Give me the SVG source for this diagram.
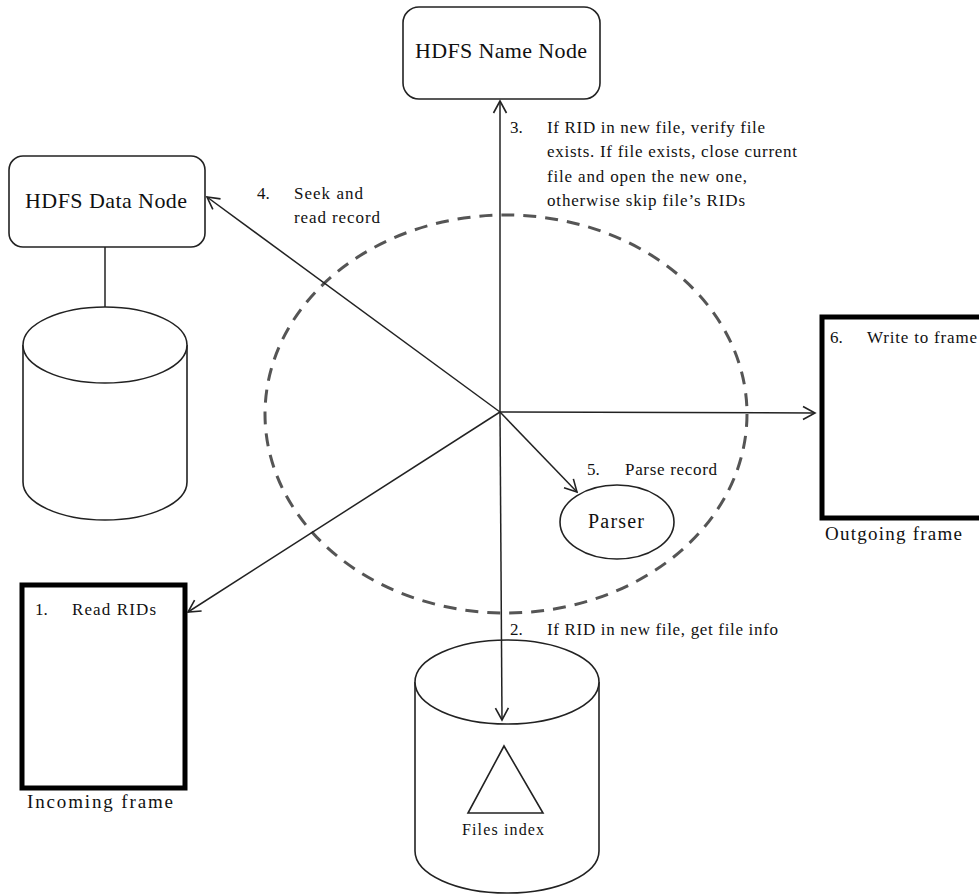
<svg xmlns="http://www.w3.org/2000/svg" width="979" height="895" viewBox="0 0 979 895">
  <style>
    .node { fill: #fff; stroke: #222; stroke-width: 1.6; }
    .frame { fill: #fff; stroke: #000; stroke-width: 5; }
    .conn { fill: none; stroke: #222; stroke-width: 1.5; }
    .scope { fill: none; stroke: #555; stroke-width: 3; stroke-dasharray: 13 9; }
    .title { font-size: 22px; }
    .step { font-size: 17px; }
  </style>
  <defs>
    <marker id="arrow" markerWidth="16" markerHeight="16" viewBox="-14 -8 16 16" refX="0" refY="0" orient="auto" markerUnits="userSpaceOnUse">
      <path d="M-12,-6.5 L0,0 L-12,6.5" fill="none" stroke="#222" stroke-width="1.6"/>
    </marker>
  </defs>

  <rect width="979" height="895" fill="#fff"/>

  <!-- process scope -->
  <ellipse class="scope" cx="506" cy="414" rx="241" ry="199"/>

  <g font-family="Liberation Serif, Times New Roman, serif" fill="#111">
  <g id="name-node">
    <rect class="node" x="403" y="7" width="197" height="92" rx="16"/>
    <text class="title" x="501" y="58" text-anchor="middle" textLength="172">HDFS Name Node</text>
  </g>

  <g id="data-node">
    <rect class="node" x="9" y="156" width="196" height="91" rx="14"/>
    <text class="title" x="106" y="208" text-anchor="middle" textLength="162">HDFS Data Node</text>
  </g>

  <g id="data-store">
    <path class="node" d="M23,345 L23,482 A82,38 0 0 0 187,482 L187,345"/>
    <ellipse class="node" cx="105" cy="345" rx="82" ry="38"/>
  </g>

  <g id="files-index">
    <path class="node" d="M415,682 L415,851 A92,42 0 0 0 599,851 L599,682"/>
    <ellipse class="node" cx="507" cy="682" rx="92" ry="42"/>
    <polygon class="node" points="504,746 468,813 543,813"/>
    <text x="503" y="835" font-size="16" text-anchor="middle" textLength="82">Files index</text>
  </g>

  <g id="parser">
    <ellipse class="node" cx="617" cy="522" rx="57" ry="37"/>
    <text x="616" y="528" font-size="20" text-anchor="middle" textLength="56">Parser</text>
  </g>

  <g id="incoming-frame">
    <rect class="frame" x="22" y="585" width="163" height="203"/>
    <text class="step" x="35" y="615">1.</text>
    <text class="step" x="72" y="615" textLength="84">Read RIDs</text>
    <text x="27" y="808" font-size="19" textLength="146">Incoming  frame</text>
  </g>

  <g id="outgoing-frame">
    <rect class="frame" x="822" y="317" width="170" height="201"/>
    <text class="step" x="830" y="343">6.</text>
    <text class="step" x="867" y="343" textLength="110">Write to frame</text>
    <text x="825" y="540" font-size="19" textLength="137">Outgoing  frame</text>
  </g>

  <g id="connectors">
    <line class="conn" x1="105" y1="247" x2="105" y2="307"/>
    <line class="conn" x1="500" y1="412" x2="500" y2="101" marker-end="url(#arrow)"/>
    <line class="conn" x1="500" y1="412" x2="502" y2="720" marker-end="url(#arrow)"/>
    <line class="conn" x1="500" y1="412" x2="207" y2="197" marker-end="url(#arrow)"/>
    <line class="conn" x1="500" y1="412" x2="188" y2="612" marker-end="url(#arrow)"/>
    <line class="conn" x1="500" y1="412" x2="815" y2="413" marker-end="url(#arrow)"/>
    <line class="conn" x1="500" y1="412" x2="577" y2="492" marker-end="url(#arrow)"/>
  </g>

  <g id="step-labels">
    <text class="step" x="510" y="133">3.</text>
    <text class="step" x="547" y="133" textLength="218">If RID in new file, verify file</text>
    <text class="step" x="547" y="157" textLength="250">exists. If file exists, close current</text>
    <text class="step" x="547" y="182" textLength="200">file and open the new one,</text>
    <text class="step" x="547" y="206" textLength="198">otherwise skip file’s RIDs</text>

    <text class="step" x="257" y="199">4.</text>
    <text class="step" x="294" y="199" textLength="69">Seek and</text>
    <text class="step" x="294" y="223" textLength="86">read record</text>

    <text class="step" x="587" y="475">5.</text>
    <text class="step" x="625" y="475" textLength="92">Parse record</text>

    <text class="step" x="510" y="635">2.</text>
    <text class="step" x="547" y="635" textLength="231">If RID in new file, get file info</text>
  </g>
  </g>
</svg>
